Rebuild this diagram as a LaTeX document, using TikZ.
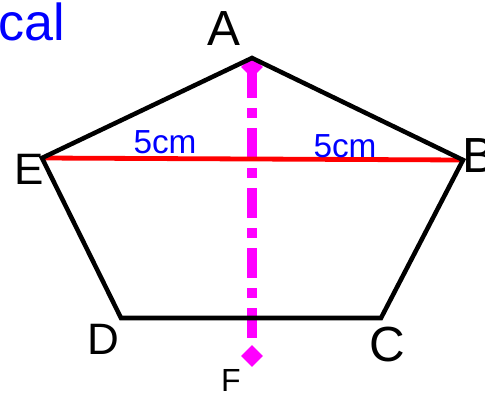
\documentclass[tikz,border=0pt]{standalone}
\usepackage{fontspec}
\setmainfont{Liberation Sans}
\usetikzlibrary{shapes.geometric}

\definecolor{lineblue}{RGB}{0,0,255}
\definecolor{axispink}{RGB}{255,0,255}

\tikzset{
    vlabel/.style={inner sep=0.75pt, font=\fontsize{37}{40}\selectfont},
    edgelen/.style={inner sep=0.75pt, text=lineblue, font=\fontsize{25}{28}\selectfont},
    axisdot/.style={diamond, fill=axispink, inner sep=0pt, minimum width=16.5pt, minimum height=16.5pt},
}

\begin{document}
\begin{tikzpicture}[x=0.75pt,y=0.75pt,yscale=-1,xscale=1]
\useasboundingbox (0,0) rectangle (485,397);

%Corners of the pentagon
\coordinate (A) at (252,58);
\coordinate (B) at (463,160);
\coordinate (C) at (381,318);
\coordinate (D) at (121,318);
\coordinate (E) at (42,158);
%Ends of the axis line
\coordinate (axtop) at (252,68);
\coordinate (axbot) at (252,338);

% Diamond ends of the axis
\node [axisdot] (dtop) at (252,67) {};
\node [axisdot] (F) at (252,356) {};
%Straight Lines (axis of symmetry)
\draw [color=axispink, line width=7.5pt, dash pattern={on 22.5pt off 7.5pt on 7.5pt off 7.5pt}]  (axtop) -- (axbot) ;

%Straight Lines (diagonal EB)
\draw [color=red, line width=3.6pt]  (E) -- (B) ;
%Pentagon
\draw [line width=3.4pt, line join=miter]  (A) -- (B) -- (C) -- (D) -- (E) -- cycle ;

% Text Node
\node [vlabel] (lblA) at (224,29) {A};
% Text Node
\node [vlabel] (lblB) at (479,156) {B};
% Text Node
\node [vlabel] (lblC) at (387,345) {C};
% Text Node
\node [vlabel, font=\fontsize{33}{36}\selectfont] (lblD) at (103,339) {D};
% Text Node
\node [vlabel, font=\fontsize{33}{36}\selectfont] (lblE) at (29,169) {E};
% Text Node
\node [vlabel, font=\fontsize{24}{28}\selectfont] (lblF) at (231,380) {F};
% Text Node
\node [edgelen] (lenEA) at (165,142) {5cm};
% Text Node
\node [edgelen] (lenAB) at (345,146) {5cm};
% Text Node
\node [anchor=west, inner sep=0pt, text=lineblue, font=\fontsize{39}{42}\selectfont] (title) at (-2,22) {cal};

\end{tikzpicture}
\end{document}
